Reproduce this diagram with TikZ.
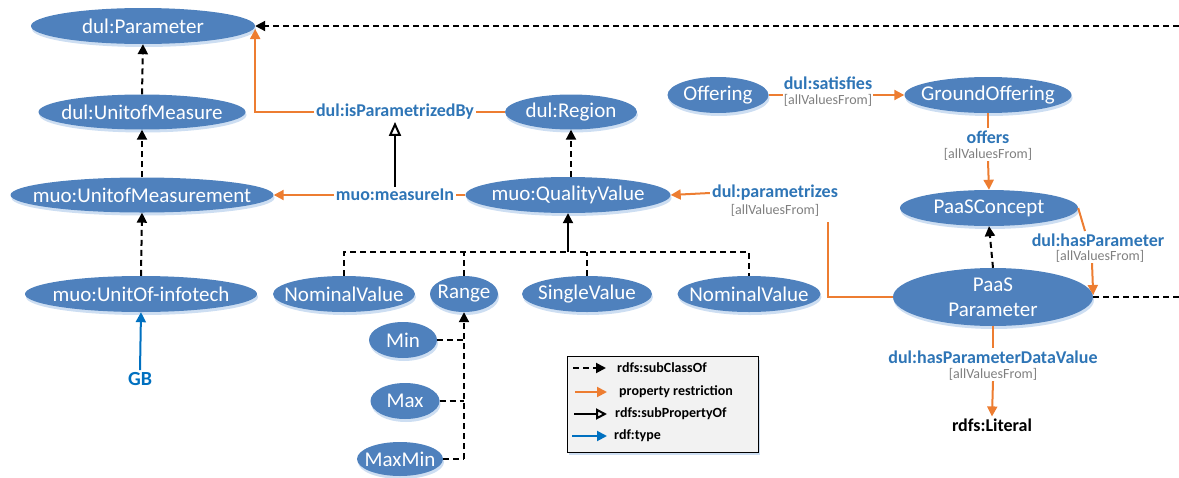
\documentclass[tikz,border=0pt]{standalone}
\usepackage{fontspec}
\setmainfont{Carlito}
\usetikzlibrary{shapes.geometric,arrows.meta,shadows}
\definecolor{nodeblue}{RGB}{79,129,189}
\definecolor{shadowblue}{RGB}{205,222,242}
\definecolor{relblue}{RGB}{46,117,182}
\definecolor{orng}{RGB}{237,125,49}
\definecolor{gry}{RGB}{127,127,127}
\definecolor{typeblue}{RGB}{0,112,192}
\definecolor{legfill}{RGB}{242,242,242}
\tikzset{
  cls/.style={ellipse, fill=nodeblue, text=white, inner xsep=-300pt, inner ysep=-100pt,
    font=\fontsize{21}{25}\selectfont, align=center,
    drop shadow={shadow xshift=1pt, shadow yshift=-3pt, fill=shadowblue, opacity=1}},
  sz/.style 2 args={minimum width=#1pt, minimum height=#2pt},
  rel/.style={text=relblue, font=\bfseries\fontsize{18}{20}\selectfont, inner sep=2pt},
  subl/.style={text=gry, font=\fontsize{14}{15}\selectfont, inner sep=1pt},
  legtext/.style={font=\bfseries\fontsize{14}{16}\selectfont, anchor=west, inner sep=0pt},
  tip/.style={-{Triangle[length=10pt,width=10pt]}},
  subcls/.style={draw=black, line width=2pt, dash pattern=on 6pt off 4pt},
  subclsarr/.style={subcls, tip},
  oline/.style={draw=orng, line width=2pt},
  oarr/.style={oline, tip},
  subprop/.style={draw=black, line width=2pt, -{Triangle[open,length=14pt,width=12pt]}},
  typearr/.style={draw=typeblue, line width=2pt, tip}
}
\begin{document}
\begin{tikzpicture}[x=1pt,y=-1pt]
\useasboundingbox (0,0) rectangle (1179,477);
% classes
\node[cls, sz={224}{36}] (param) at (143,26) {dul:Parameter};
\node[cls, sz={207}{35}] (uom) at (142,112) {dul:UnitofMeasure};
\node[cls, sz={263}{35}] (uomt) at (142,195) {muo:UnitofMeasurement};
\node[cls, sz={232}{36}] (uinfo) at (141,294) {muo:UnitOf-infotech};
\node[cls, sz={132}{35}] (region) at (571,112) {dul:Region};
\node[cls, sz={205}{36}] (qv) at (568,195) {muo:QualityValue};
\node[cls, sz={142}{36}] (nv1) at (344,294) {NominalValue};
\node[cls, sz={68}{36}] (range) at (464,294) {Range};
\node[cls, sz={130}{36}] (sv) at (587,294) {SingleValue};
\node[cls, sz={143}{36}] (nv2) at (749,294) {NominalValue};
\node[cls, sz={68}{36}] (min) at (403,340) {Min};
\node[cls, sz={69}{36}] (max) at (405,401) {Max};
\node[cls, sz={86}{34}] (maxmin) at (400,459) {MaxMin};
\node[cls, sz={101}{36}] (offering) at (718,95) {Offering};
\node[cls, sz={167}{36}] (ground) at (988,95) {GroundOffering};
\node[cls, sz={178}{36}] (paasc) at (989,208) {PaaSConcept};
\node[cls, sz={200}{58}] (paasp) at (993,297) {PaaS\\Parameter};
\node[font=\bfseries\fontsize{18}{20}\selectfont, inner sep=2pt] (literal) at (992,425) {rdfs:Literal};
\node[text=typeblue, font=\bfseries\fontsize{20}{22}\selectfont, inner sep=2pt] (gb) at (140,379) {GB};
% relation labels
\node[rel] (isp) at (395,112) {dul:isParametrizedBy};
\node[rel] (mi) at (395,195) {muo:measureIn};
\node[rel] (par) at (775,193) {dul:parametrizes};
\node[subl] (parsub) at (775,210) {[allValuesFrom]};
\node[rel] (sat) at (828,83) {dul:satisfies};
\node[subl] (satsub) at (828,100) {[allValuesFrom]};
\node[rel] (off) at (988,137) {offers};
\node[subl] (offsub) at (988,154) {[allValuesFrom]};
\node[rel] (hp) at (1098,240) {dul:hasParameter};
\node[subl] (hpsub) at (1100,256) {[allValuesFrom]};
\node[rel] (hpdv) at (993,357) {dul:hasParameterDataValue};
\node[subl] (hpdvsub) at (993,374) {[allValuesFrom]};
% coordinates
\coordinate (bus) at (568,252);
\coordinate (pc) at (828,222);
\coordinate (r1) at (1179,297);
\coordinate (r2) at (1179,26);
\coordinate (hpin) at (1085,231);
% subclass edges
\draw[subclsarr] (uom.north) -- (param.south);
\draw[subclsarr] (uomt.north) -- (uom.south);
\draw[subclsarr] (uinfo.north) -- (uomt.south);
\draw[subclsarr] (qv.north -| region.south) -- (region.south);
\draw[subclsarr] (paasp.north) -- (paasc.south);
\draw[subclsarr] (r2) -- (param.east);
\draw[subcls] (paasp.east) -- (r1);
\draw[subcls] (nv1.north) -- (nv1.north |- bus) -- (nv2.north |- bus) -- (nv2.north);
\draw[subcls] (range.north) -- (range.north |- bus);
\draw[subcls] (sv.north) -- (sv.north |- bus);
\draw[draw=black, line width=2pt, tip] (bus) -- (qv.south);
\draw[subclsarr] (maxmin.east -| range.south) -- (range.south);
\draw[subcls] (min.east) -- (min.east -| range.south);
\draw[subcls] (max.east) -- (max.east -| range.south);
\draw[subcls] (maxmin.east) -- (maxmin.east -| range.south);
% type
\draw[typearr] (gb.north) -- (uinfo.south);
% property restrictions
\draw[oline] (region.west) -- (isp.east);
\draw[oarr] (isp.west) -| ([yshift=-3pt]param.east);
\draw[oline] (qv.west) -- (mi.east);
\draw[oarr] (mi.west) -- (uomt.east);
\draw[subprop] (mi.north) -- (mi.north |- isp.south);
\draw[oarr] (par.west) -- (qv.east);
\draw[oline] (paasp.west) -| (pc);
\draw[oline] (offering.east) -- (offering.east -| satsub.west);
\draw[oarr] (ground.west -| satsub.east) -- (ground.west);
\draw[oline] (ground.south) -- (off.north);
\draw[oarr] (offsub.south) -- (paasc.north);
\draw[oline] (paasc.east) -- (hpin);
\draw[oarr] ([xshift=-8pt]hpsub.south) -- ([yshift=2pt]paasp.east);
\draw[oline] (paasp.south) -- (hpdv.north);
\draw[oarr] (hpdvsub.south) -- (literal.north);
% legend
\fill[shadowblue] (569,360) rectangle (760,455);
\node[draw=black, line width=0.8pt, fill=legfill, minimum width=191pt, minimum height=96pt, inner sep=0pt] (legend) at (662.5,404.5) {};
\coordinate (l1a) at (573,368); \coordinate (l1b) at (606,368);
\coordinate (l2a) at (575,392); \coordinate (l2b) at (607,392);
\coordinate (l3a) at (574,414); \coordinate (l3b) at (607,414);
\coordinate (l4a) at (572,436); \coordinate (l4b) at (607,436);
\draw[subclsarr] (l1a) -- (l1b);
\draw[oarr] (l2a) -- (l2b);
\draw[subprop, -{Triangle[open,length=11pt,width=11pt]}] (l3a) -- (l3b);
\draw[typearr] (l4a) -- (l4b);
\node[legtext] (t1) at (617,368) {rdfs:subClassOf};
\node[legtext] (t2) at (619,392) {property restriction};
\node[legtext] (t3) at (615,414) {rdfs:subPropertyOf};
\node[legtext] (t4) at (614,436) {rdf:type};
\end{tikzpicture}
\end{document}
